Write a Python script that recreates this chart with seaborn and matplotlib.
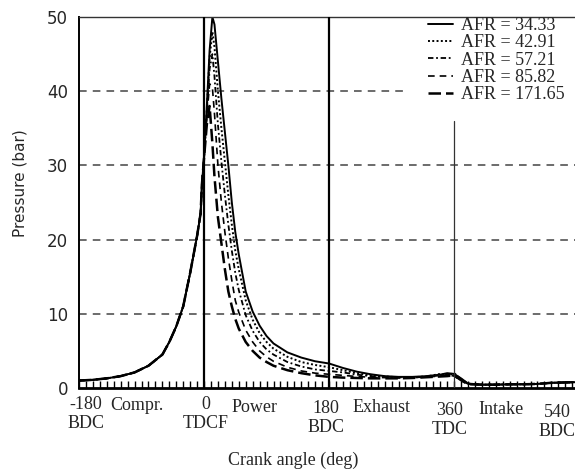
import matplotlib
matplotlib.use('Agg')
import matplotlib.pyplot as plt
from matplotlib.ticker import MultipleLocator
from matplotlib.transforms import blended_transform_factory
import seaborn as sns

# crank angle grid (deg)
comp_angle = [-180, -160, -140, -120, -100, -80, -60, -50, -40, -30, -20, -10, -5, -3, 0]
cycle_angle = [4, 8, 12, 15, 20, 25, 30, 35, 40, 45, 50, 60, 70, 80, 90, 100, 120, 140, 160, 180,
               200, 220, 240, 260, 280, 300, 320, 340, 350, 360, 370, 380, 400, 420, 440, 460,
               480, 500, 520, 540]

# compression stroke, same for all AFR
p_comp = [1.0, 1.1, 1.3, 1.6, 2.1, 3.0, 4.5, 6.2, 8.3, 11, 15.5, 20.5, 23.5, 27.5, 31]

# after TDC, one list per AFR
p_afr_34 = [38, 45.5, 50, 49, 44, 39, 34.5, 30, 25, 21, 18, 13, 10.3, 8.4, 7, 6, 4.8, 4.1, 3.6, 3.3,
            2.7, 2.2, 1.85, 1.6, 1.5, 1.5, 1.6, 1.8, 2.0, 1.9, 1.3, 0.6, 0.45, 0.45, 0.5, 0.5,
            0.55, 0.7, 0.75, 0.8]
p_afr_43 = [37.5, 44.5, 48, 46, 40, 35, 30.5, 26, 22, 18.5, 16, 11.8, 9.2, 7.4, 6.2, 5.3, 4.2, 3.5, 3.1, 2.8,
            2.4, 2.0, 1.7, 1.55, 1.45, 1.45, 1.55, 1.9, 1.7, 2.0, 1.2, 0.6, 0.45, 0.45, 0.5, 0.5,
            0.55, 0.7, 0.75, 0.8]
p_afr_57 = [37, 43, 45, 42, 35.5, 30.5, 26, 22, 18.5, 15.5, 13.2, 9.8, 7.7, 6.2, 5.2, 4.5, 3.5, 2.9, 2.5, 2.3,
            2.1, 1.8, 1.6, 1.5, 1.4, 1.4, 1.5, 1.7, 1.9, 1.7, 1.1, 0.55, 0.45, 0.45, 0.5, 0.5,
            0.55, 0.7, 0.75, 0.8]
p_afr_86 = [36.5, 41, 40.5, 37, 30, 25, 21, 17.5, 14.5, 11.8, 10.2, 7.8, 6.2, 5.0, 4.2, 3.6, 2.8, 2.3, 2.0, 1.85,
            1.7, 1.55, 1.45, 1.4, 1.35, 1.4, 1.5, 1.6, 1.8, 1.6, 1.0, 0.55, 0.45, 0.45, 0.5, 0.5,
            0.55, 0.7, 0.75, 0.8]
p_afr_172 = [35.5, 38, 33, 28.5, 23, 19.5, 16, 13, 11, 9.3, 8, 6.2, 5, 4.1, 3.5, 3.0, 2.4, 2.0, 1.7, 1.5,
             1.4, 1.35, 1.3, 1.3, 1.3, 1.35, 1.45, 1.55, 1.6, 1.7, 1.05, 0.5, 0.45, 0.45, 0.5, 0.5,
             0.55, 0.7, 0.75, 0.8]

afr_labels = ['AFR = 34.33', 'AFR = 42.91', 'AFR = 57.21', 'AFR = 85.82', 'AFR = 171.65']
afr_series = [p_afr_34, p_afr_43, p_afr_57, p_afr_86, p_afr_172]

# x-axis labels: angle ticks and stroke names
tick_angles = [-180, 0, 180, 360, 540]
tick_texts = ['-180\nBDC', '0\nTDCF', '180\nBDC', '360\nTDC', '540\nBDC']
stroke_names = ['Compr.', 'Power', 'Exhaust', 'Intake']

sns.set_theme(style='white')
plt.rcParams['font.family'] = ['Liberation Serif', 'DejaVu Serif']
plt.rcParams['axes.unicode_minus'] = False

fig = plt.figure(figsize=(5.75, 4.7), dpi=100)
ax = fig.add_axes([79 / 575, 1 - 388 / 470, 1 - 79 / 575, (388 - 17) / 470])

styles = ['-', (0, (1, 1.2)), (0, (3, 1.5, 1, 1.5)), (0, (4, 3)), (0, (5, 2))]
widths = [1.4, 1.4, 1.3, 1.2, 1.8]

angle = comp_angle + cycle_angle
for lab, p, ls, lw in zip(afr_labels, afr_series, styles, widths):
    sns.lineplot(x=angle, y=p_comp + p, ax=ax, color='black', linestyle=ls, lw=lw,
                 label=lab, estimator=None, sort=False)

# grid lines
for yv in [10, 20, 30]:
    ax.axhline(yv, color='#444444', lw=1.1, linestyle=(0, (5, 4)), zorder=1)
ax.axhline(40, xmax=0.657, color='#444444', lw=1.1, linestyle=(0, (5, 4)), zorder=1)

# stroke markers
ax.axvline(0, color='black', lw=1.6, zorder=3)
ax.axvline(180, color='black', lw=1.6, zorder=3)
ax.axvline(360, ymax=0.72, color='#333333', lw=0.9, zorder=3)

ax.set_xlim(-180, 534)
ax.set_ylim(0, 50)

ax.spines['right'].set_visible(False)
ax.spines['top'].set_linewidth(1.0)
ax.spines['top'].set_color('#333333')
ax.spines['left'].set_linewidth(1.4)
ax.spines['left'].set_color('black')
ax.spines['bottom'].set_linewidth(2.0)
ax.spines['bottom'].set_color('black')

ax.set_yticks([0, 10, 20, 30, 40, 50])
ax.set_yticklabels(['0', '10', '20', '30', '40', '50'], family=['DejaVu Sans'], fontsize=12)
ax.tick_params(axis='y', length=0, pad=8)

ax.xaxis.set_minor_locator(MultipleLocator(10))
ax.set_xticks(tick_angles[:4])
ax.set_xticklabels([])
ax.tick_params(axis='x', which='both', direction='in', length=5, width=1, color='black',
               bottom=True)

# labels under the axis (x in data, y in figure pixels from top)
trans = blended_transform_factory(ax.transData, fig.transFigure)
tick_x = [-170, 3, 176, 353, 508]
tick_y = [414, 414, 418, 420, 422]
for xs, ys, txt in zip(tick_x, tick_y, tick_texts):
    ax.text(xs, 1 - ys / 470, txt, ha='center', va='center', fontsize=13, linespacing=1.15,
            transform=trans, clip_on=False)
stroke_x = [-96, 73, 255, 428]
stroke_y = [405, 407, 408, 410]
for xs, ys, txt in zip(stroke_x, stroke_y, stroke_names):
    ax.text(xs, 1 - ys / 470, txt, ha='center', va='center', fontsize=13,
            transform=trans, clip_on=False)

fig.text(293 / 575, 1 - 460 / 470, 'Crank angle (deg)', ha='center', va='center', fontsize=13)
ax.set_ylabel('Pressure (bar)', family=['DejaVu Sans'], fontsize=11)
ax.yaxis.set_label_coords(-0.104, 0.553)

leg = ax.legend(loc='upper left', bbox_to_anchor=(428 / 575, 1 - 17 / 470),
                bbox_transform=fig.transFigure, frameon=False, fontsize=13,
                handlelength=1.4, handletextpad=0.45, labelspacing=0.02, borderpad=0.0,
                borderaxespad=0.0)

fig.savefig('out.png', dpi=100)
